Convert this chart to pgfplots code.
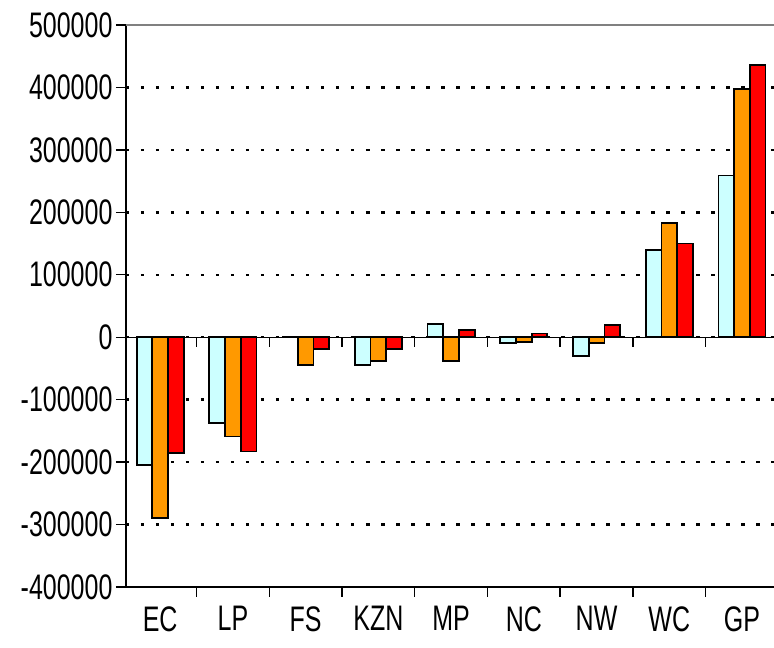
\documentclass[border=0pt]{standalone}
\usepackage{pgfplots}
\pgfplotsset{compat=1.18}
\usepackage{graphicx}
\usepackage{fontspec}
\setmainfont{Liberation Sans}
\definecolor{cyanb}{HTML}{CCFFFF}
\definecolor{orangeb}{HTML}{FF9900}
\definecolor{redb}{HTML}{FF0000}
\newcommand\st[1]{\scalebox{1}[1.42]{#1}}
\begin{document}
\begin{tikzpicture}
\begin{axis}[
  name=ax,
  scale only axis,
  width=648pt, height=562pt,
  xmin=-0.47, xmax=8.44,
  ymin=-400000, ymax=500000,
  scaled y ticks=false,
  axis x line*=bottom, axis y line*=left,
  axis line style={black, line width=1.4pt},
  font=\fontsize{25}{30}\selectfont,
  ytick={-400000,-300000,-200000,-100000,0,100000,200000,300000,400000,500000},
  yticklabels={\st{-400000},\st{-300000},\st{-200000},\st{-100000},\st{0},\st{100000},\st{200000},\st{300000},\st{400000},\st{500000}},
  xtick={0,...,8},
  xticklabels={\st{EC},\st{LP},\st{FS},\st{KZN},\st{MP},\st{NC},\st{NW},\st{WC},\st{GP}},
  major x tick style={draw=none},
  minor xtick={0.5,1.5,...,7.5},
  minor tick length=10pt,
  major tick length=10pt,
  tick align=outside,
  tick style={black, line width=1.4pt},
  xticklabel style={yshift=-6pt},
  ymajorgrids,
  grid style={black, line width=2.4pt, dash pattern=on 3.5pt off 11.5pt},
  ybar, bar width=0.216,
  clip=false,
]
\addplot[bar shift=-0.216, fill=cyanb, draw=black, line width=1.8pt] coordinates {
 (0,-205000) (1,-137000) (2,0) (3,-44000) (4,21000) (5,-9000) (6,-30000) (7,140000) (8,259000)};
\addplot[bar shift=0, fill=orangeb, draw=black, line width=1.8pt] coordinates {
 (0,-290000) (1,-159000) (2,-44000) (3,-38000) (4,-38000) (5,-8000) (6,-9000) (7,183000) (8,398000)};
\addplot[bar shift=0.216, fill=redb, draw=black, line width=1.8pt] coordinates {
 (0,-185000) (1,-183000) (2,-19000) (3,-19000) (4,11000) (5,6000) (6,20000) (7,150000) (8,436000)};
\draw[black, line width=1.4pt] (axis cs:-0.47,0) -- (axis cs:8.44,0);
\draw[gray, line width=1.2pt] (axis cs:-0.47,500000) -- (axis cs:8.44,500000);
\pgfplotsinvokeforeach{0.5,1.5,2.5,3.5,4.5,5.5,6.5,7.5}{
  \draw[black, line width=1.4pt] (axis cs:#1,0) -- ([yshift=-10pt]axis cs:#1,0);}
\end{axis}
\pgfresetboundingbox
\path ([xshift=-126pt,yshift=-61pt]ax.south west) rectangle ([yshift=25pt]ax.north east);
\end{tikzpicture}
\end{document}
